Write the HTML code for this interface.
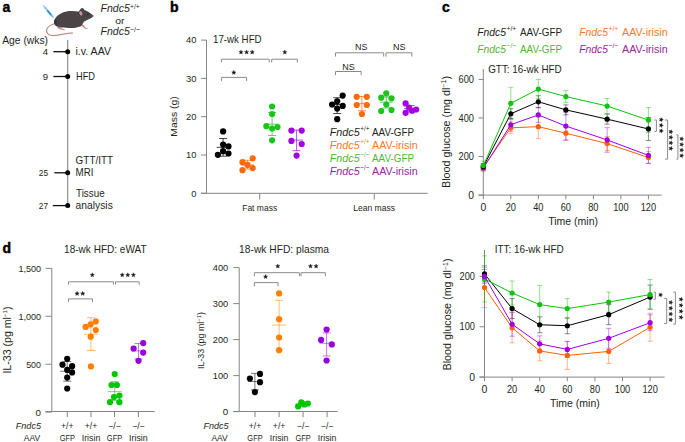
<!DOCTYPE html>
<html><head><meta charset="utf-8"><title>Figure</title>
<style>
html,body{margin:0;padding:0;background:#fff;}
body{width:685px;height:442px;overflow:hidden;}
svg{display:block;font-family:"Liberation Sans", sans-serif;}
</style></head>
<body>
<svg width="685" height="442" viewBox="0 0 685 442">
<rect width="685" height="442" fill="#fff"/>
<text x="2.50" y="12.00" font-size="14" font-weight="bold" fill="#000" stroke="#000" stroke-width="0.45">a</text>
<text x="170.00" y="12.00" font-size="14" font-weight="bold" fill="#000" stroke="#000" stroke-width="0.45">b</text>
<text x="442.00" y="12.00" font-size="14" font-weight="bold" fill="#000" stroke="#000" stroke-width="0.45">c</text>
<text x="2.50" y="252.50" font-size="14" font-weight="bold" fill="#000" stroke="#000" stroke-width="0.45">d</text>

<g>
<path d="M43.6 5.9 L45.4 8.0" stroke="#a9d2ef" stroke-width="1.6" stroke-linecap="round"/>
<path d="M45.0 7.6 L52.6 16.6" stroke="#9ccbec" stroke-width="2.3" stroke-linecap="round"/>
<path d="M47.6 10.8 L50.9 14.7" stroke="#2d8ed5" stroke-width="1.5" stroke-linecap="round"/>
<path d="M52.6 16.6 L54.0 18.2" stroke="#7aa9c9" stroke-width="0.6"/>
<path d="M53.6 24.0 C50.5 25.0 47.2 26.8 46.6 29.8 C46.2 32.6 48.0 35.2 52.0 35.5 C56.0 35.7 60.0 34.6 63.0 34.2 C66.5 33.6 69.5 32.9 72.4 33.2" fill="none" stroke="#c58d88" stroke-width="1.25" stroke-linecap="round"/>
<path d="M57.0 27.0 C57.4 28.8 60.0 30.0 64.8 30.2 L64.6 29.0 C62.2 28.7 60.6 28.0 60.2 27.0 Z" fill="#c9928d"/>
<path d="M81.4 25.2 C82.4 27.4 84.4 28.6 87.4 29.3 L87.6 28.3 C85.8 27.9 84.5 26.9 83.8 25.0 Z" fill="#c9928d"/>
<path d="M54.0 23.0 C53.6 20.5 55.5 17.2 58.4 15.1 C61.5 12.8 65.5 11.3 69.0 11.0 C72.5 10.7 76.0 11.0 78.8 11.6 C80.0 9.5 81.0 8.0 82.2 7.9 C83.4 8.0 84.0 9.0 84.3 10.0 C87.5 11.0 91.0 13.3 93.3 15.6 C93.4 16.8 92.2 17.8 90.8 18.2 C89.0 19.2 86.5 20.2 84.5 21.2 C83.2 22.5 82.6 24.0 82.0 25.5 C80.0 26.8 77.0 27.6 74.5 27.9 C70.0 28.1 65.0 27.8 61.0 27.5 C58.0 27.2 55.5 26.0 54.5 24.5 Z" fill="#4b4446"/>
<path d="M54.2 22.8 C54.0 20.8 54.8 19.2 56.0 18.4 C56.3 20.5 56.8 23.5 58.0 26.6 C56.0 26.0 54.6 24.8 54.2 22.8 Z" fill="#3a3436"/>
<ellipse cx="80.9" cy="13.3" rx="1.5" ry="2.3" transform="rotate(-18 80.9 13.3)" fill="#c8918e"/>
<circle cx="87.9" cy="14.4" r="0.55" fill="#111"/>
<circle cx="93.2" cy="16.2" r="0.6" fill="#c8918e"/>
</g>
<text x="100.60" y="11.50" font-size="10.1" font-style="italic" fill="#231f20" textLength="29.2" lengthAdjust="spacingAndGlyphs">Fndc5</text>
<text x="130.00" y="8.70" font-size="7.6" fill="#231f20" textLength="9.6" lengthAdjust="spacingAndGlyphs">+/+</text>
<text x="119.80" y="23.70" font-size="9.0" text-anchor="middle" fill="#231f20" textLength="9.3" lengthAdjust="spacingAndGlyphs">or</text>
<text x="100.60" y="35.40" font-size="10.1" font-style="italic" fill="#231f20" textLength="29.2" lengthAdjust="spacingAndGlyphs">Fndc5</text>
<text x="130.00" y="32.40" font-size="7.6" fill="#231f20" textLength="10.0" lengthAdjust="spacingAndGlyphs">−/−</text>
<text x="2.20" y="43.70" font-size="10.8" fill="#231f20" textLength="45.8" lengthAdjust="spacingAndGlyphs">Age (wks)</text>
<line x1="67.70" y1="40.00" x2="67.70" y2="205.60" stroke="#8c8c8c" stroke-width="1.2"/>
<line x1="53.40" y1="51.70" x2="67.70" y2="51.70" stroke="#111" stroke-width="1.3"/>
<circle cx="67.70" cy="51.70" r="2.5" fill="#000"/>
<text x="48.00" y="54.70" font-size="9.6" text-anchor="end" fill="#231f20">4</text>
<line x1="53.40" y1="76.50" x2="67.70" y2="76.50" stroke="#111" stroke-width="1.3"/>
<circle cx="67.70" cy="76.50" r="2.5" fill="#000"/>
<text x="48.00" y="79.50" font-size="9.6" text-anchor="end" fill="#231f20">9</text>
<line x1="54.30" y1="172.80" x2="67.70" y2="172.80" stroke="#111" stroke-width="1.3"/>
<circle cx="67.70" cy="172.80" r="2.5" fill="#000"/>
<text x="48.00" y="175.80" font-size="9.6" text-anchor="end" fill="#231f20" textLength="9.2" lengthAdjust="spacingAndGlyphs">25</text>
<line x1="52.80" y1="205.60" x2="67.70" y2="205.60" stroke="#111" stroke-width="1.3"/>
<circle cx="67.70" cy="205.60" r="2.5" fill="#000"/>
<text x="48.00" y="208.60" font-size="9.6" text-anchor="end" fill="#231f20" textLength="9.2" lengthAdjust="spacingAndGlyphs">27</text>
<text x="75.50" y="54.90" font-size="10.6" fill="#231f20" textLength="35.5" lengthAdjust="spacingAndGlyphs">i.v. AAV</text>
<text x="76.00" y="79.90" font-size="10.6" fill="#231f20" textLength="19.0" lengthAdjust="spacingAndGlyphs">HFD</text>
<text x="75.60" y="164.30" font-size="10.6" fill="#231f20" textLength="37.5" lengthAdjust="spacingAndGlyphs">GTT/ITT</text>
<text x="75.60" y="176.20" font-size="10.6" fill="#231f20" textLength="17.8" lengthAdjust="spacingAndGlyphs">MRI</text>
<text x="76.00" y="197.20" font-size="10.6" fill="#231f20" textLength="28.6" lengthAdjust="spacingAndGlyphs">Tissue</text>
<text x="75.60" y="209.00" font-size="10.6" fill="#231f20" textLength="37.2" lengthAdjust="spacingAndGlyphs">analysis</text>
<line x1="206.50" y1="40.00" x2="206.50" y2="193.30" stroke="#858585" stroke-width="1"/>
<line x1="201.00" y1="193.30" x2="427.70" y2="193.30" stroke="#858585" stroke-width="1"/>
<line x1="201.00" y1="193.30" x2="206.50" y2="193.30" stroke="#858585" stroke-width="1"/>
<text x="196.40" y="196.50" font-size="9.4" text-anchor="end" fill="#231f20">0</text>
<line x1="201.00" y1="155.00" x2="206.50" y2="155.00" stroke="#858585" stroke-width="1"/>
<text x="196.40" y="158.20" font-size="9.4" text-anchor="end" fill="#231f20">10</text>
<line x1="201.00" y1="116.70" x2="206.50" y2="116.70" stroke="#858585" stroke-width="1"/>
<text x="196.40" y="119.90" font-size="9.4" text-anchor="end" fill="#231f20">20</text>
<line x1="201.00" y1="78.40" x2="206.50" y2="78.40" stroke="#858585" stroke-width="1"/>
<text x="196.40" y="81.60" font-size="9.4" text-anchor="end" fill="#231f20">30</text>
<line x1="201.00" y1="40.10" x2="206.50" y2="40.10" stroke="#858585" stroke-width="1"/>
<text x="196.40" y="43.30" font-size="9.4" text-anchor="end" fill="#231f20">40</text>
<line x1="259.70" y1="193.30" x2="259.70" y2="199.60" stroke="#858585" stroke-width="1"/>
<line x1="374.20" y1="193.30" x2="374.20" y2="199.60" stroke="#858585" stroke-width="1"/>
<text x="259.70" y="210.70" font-size="8.6" text-anchor="middle" fill="#231f20" textLength="35" lengthAdjust="spacingAndGlyphs">Fat mass</text>
<text x="374.10" y="210.60" font-size="8.6" text-anchor="middle" fill="#231f20" textLength="41.9" lengthAdjust="spacingAndGlyphs">Lean mass</text>
<text x="177.10" y="116.50" font-size="9.6" text-anchor="middle" fill="#231f20" textLength="40.5" lengthAdjust="spacingAndGlyphs" transform="rotate(-90 177.1 116.5)">Mass (g)</text>
<text x="213.00" y="43.40" font-size="10.6" fill="#231f20" textLength="48.6" lengthAdjust="spacingAndGlyphs">17-wk HFD</text>
<line x1="223.10" y1="138.50" x2="223.10" y2="156.20" stroke="#000000" stroke-width="0.9" stroke-opacity="0.8"/>
<line x1="219.10" y1="138.50" x2="227.10" y2="138.50" stroke="#000000" stroke-width="0.9" stroke-opacity="0.8"/>
<line x1="219.10" y1="156.20" x2="227.10" y2="156.20" stroke="#000000" stroke-width="0.9" stroke-opacity="0.8"/>
<line x1="216.60" y1="147.40" x2="229.60" y2="147.40" stroke="#000000" stroke-width="0.9" stroke-opacity="0.8"/>
<circle cx="223.10" cy="131.40" r="3.1" fill="#000000"/>
<circle cx="223.10" cy="144.50" r="3.1" fill="#000000"/>
<circle cx="228.50" cy="146.40" r="3.1" fill="#000000"/>
<circle cx="223.10" cy="151.20" r="3.1" fill="#000000"/>
<circle cx="217.90" cy="154.80" r="3.1" fill="#000000"/>
<circle cx="228.50" cy="153.50" r="3.1" fill="#000000"/>
<line x1="247.50" y1="160.30" x2="247.50" y2="169.00" stroke="#FF680C" stroke-width="0.9" stroke-opacity="0.8"/>
<line x1="243.50" y1="160.30" x2="251.50" y2="160.30" stroke="#FF680C" stroke-width="0.9" stroke-opacity="0.8"/>
<line x1="243.50" y1="169.00" x2="251.50" y2="169.00" stroke="#FF680C" stroke-width="0.9" stroke-opacity="0.8"/>
<line x1="241.00" y1="165.00" x2="254.00" y2="165.00" stroke="#FF680C" stroke-width="0.9" stroke-opacity="0.8"/>
<circle cx="252.70" cy="158.30" r="3.1" fill="#FF680C"/>
<circle cx="242.50" cy="162.20" r="3.1" fill="#FF680C"/>
<circle cx="247.50" cy="164.90" r="3.1" fill="#FF680C"/>
<circle cx="252.70" cy="168.10" r="3.1" fill="#FF680C"/>
<circle cx="242.50" cy="170.20" r="3.1" fill="#FF680C"/>
<line x1="272.10" y1="112.50" x2="272.10" y2="135.50" stroke="#1EC41E" stroke-width="0.9" stroke-opacity="0.8"/>
<line x1="268.10" y1="112.50" x2="276.10" y2="112.50" stroke="#1EC41E" stroke-width="0.9" stroke-opacity="0.8"/>
<line x1="268.10" y1="135.50" x2="276.10" y2="135.50" stroke="#1EC41E" stroke-width="0.9" stroke-opacity="0.8"/>
<line x1="265.60" y1="124.20" x2="278.60" y2="124.20" stroke="#1EC41E" stroke-width="0.9" stroke-opacity="0.8"/>
<circle cx="272.10" cy="106.50" r="3.1" fill="#1EC41E"/>
<circle cx="272.10" cy="114.00" r="3.1" fill="#1EC41E"/>
<circle cx="266.40" cy="126.20" r="3.1" fill="#1EC41E"/>
<circle cx="272.10" cy="128.50" r="3.1" fill="#1EC41E"/>
<circle cx="277.50" cy="127.10" r="3.1" fill="#1EC41E"/>
<circle cx="272.10" cy="140.30" r="3.1" fill="#1EC41E"/>
<line x1="296.60" y1="130.10" x2="296.60" y2="150.70" stroke="#A204E0" stroke-width="0.9" stroke-opacity="0.8"/>
<line x1="292.60" y1="130.10" x2="300.60" y2="130.10" stroke="#A204E0" stroke-width="0.9" stroke-opacity="0.8"/>
<line x1="292.60" y1="150.70" x2="300.60" y2="150.70" stroke="#A204E0" stroke-width="0.9" stroke-opacity="0.8"/>
<line x1="290.10" y1="140.10" x2="303.10" y2="140.10" stroke="#A204E0" stroke-width="0.9" stroke-opacity="0.8"/>
<circle cx="291.40" cy="130.60" r="3.1" fill="#A204E0"/>
<circle cx="301.70" cy="130.60" r="3.1" fill="#A204E0"/>
<circle cx="291.40" cy="140.90" r="3.1" fill="#A204E0"/>
<circle cx="301.70" cy="144.00" r="3.1" fill="#A204E0"/>
<circle cx="296.60" cy="155.60" r="3.1" fill="#A204E0"/>
<line x1="337.20" y1="97.70" x2="337.20" y2="113.50" stroke="#000000" stroke-width="0.9" stroke-opacity="0.8"/>
<line x1="333.20" y1="97.70" x2="341.20" y2="97.70" stroke="#000000" stroke-width="0.9" stroke-opacity="0.8"/>
<line x1="333.20" y1="113.50" x2="341.20" y2="113.50" stroke="#000000" stroke-width="0.9" stroke-opacity="0.8"/>
<line x1="330.70" y1="104.50" x2="343.70" y2="104.50" stroke="#000000" stroke-width="0.9" stroke-opacity="0.8"/>
<circle cx="342.70" cy="95.60" r="3.1" fill="#000000"/>
<circle cx="337.20" cy="101.30" r="3.1" fill="#000000"/>
<circle cx="332.10" cy="104.50" r="3.1" fill="#000000"/>
<circle cx="342.70" cy="105.90" r="3.1" fill="#000000"/>
<circle cx="337.20" cy="108.60" r="3.1" fill="#000000"/>
<circle cx="337.20" cy="119.20" r="3.1" fill="#000000"/>
<line x1="361.90" y1="96.50" x2="361.90" y2="110.70" stroke="#FF680C" stroke-width="0.9" stroke-opacity="0.8"/>
<line x1="357.90" y1="96.50" x2="365.90" y2="96.50" stroke="#FF680C" stroke-width="0.9" stroke-opacity="0.8"/>
<line x1="357.90" y1="110.70" x2="365.90" y2="110.70" stroke="#FF680C" stroke-width="0.9" stroke-opacity="0.8"/>
<line x1="355.40" y1="103.40" x2="368.40" y2="103.40" stroke="#FF680C" stroke-width="0.9" stroke-opacity="0.8"/>
<circle cx="356.70" cy="96.80" r="3.1" fill="#FF680C"/>
<circle cx="366.80" cy="96.80" r="3.1" fill="#FF680C"/>
<circle cx="356.70" cy="105.00" r="3.1" fill="#FF680C"/>
<circle cx="366.80" cy="105.00" r="3.1" fill="#FF680C"/>
<circle cx="361.90" cy="114.00" r="3.1" fill="#FF680C"/>
<line x1="386.30" y1="97.00" x2="386.30" y2="108.00" stroke="#1EC41E" stroke-width="0.9" stroke-opacity="0.8"/>
<line x1="382.30" y1="97.00" x2="390.30" y2="97.00" stroke="#1EC41E" stroke-width="0.9" stroke-opacity="0.8"/>
<line x1="382.30" y1="108.00" x2="390.30" y2="108.00" stroke="#1EC41E" stroke-width="0.9" stroke-opacity="0.8"/>
<line x1="379.80" y1="102.20" x2="392.80" y2="102.20" stroke="#1EC41E" stroke-width="0.9" stroke-opacity="0.8"/>
<circle cx="386.30" cy="93.40" r="3.1" fill="#1EC41E"/>
<circle cx="381.20" cy="97.70" r="3.1" fill="#1EC41E"/>
<circle cx="391.50" cy="98.30" r="3.1" fill="#1EC41E"/>
<circle cx="386.30" cy="104.50" r="3.1" fill="#1EC41E"/>
<circle cx="381.20" cy="111.00" r="3.1" fill="#1EC41E"/>
<circle cx="391.50" cy="110.10" r="3.1" fill="#1EC41E"/>
<line x1="410.60" y1="105.50" x2="410.60" y2="111.80" stroke="#A204E0" stroke-width="0.9" stroke-opacity="0.8"/>
<line x1="406.60" y1="105.50" x2="414.60" y2="105.50" stroke="#A204E0" stroke-width="0.9" stroke-opacity="0.8"/>
<line x1="406.60" y1="111.80" x2="414.60" y2="111.80" stroke="#A204E0" stroke-width="0.9" stroke-opacity="0.8"/>
<line x1="404.10" y1="108.60" x2="417.10" y2="108.60" stroke="#A204E0" stroke-width="0.9" stroke-opacity="0.8"/>
<circle cx="405.60" cy="103.40" r="3.1" fill="#A204E0"/>
<circle cx="409.00" cy="107.70" r="3.1" fill="#A204E0"/>
<circle cx="412.10" cy="110.70" r="3.1" fill="#A204E0"/>
<circle cx="416.20" cy="109.50" r="3.1" fill="#A204E0"/>
<circle cx="405.60" cy="112.80" r="3.1" fill="#A204E0"/>
<path d="M221.40 62.40V59.20H269.20V62.40" fill="none" stroke="#8a8a8a" stroke-width="1"/>
<polygon points="241.00,49.95 241.60,51.38 243.14,51.50 241.96,52.51 242.32,54.02 241.00,53.21 239.68,54.02 240.04,52.51 238.86,51.50 240.40,51.38" fill="#1a1a1a" stroke="#1a1a1a" stroke-width="0.35" stroke-linejoin="round"/>
<polygon points="246.60,49.95 247.20,51.38 248.74,51.50 247.56,52.51 247.92,54.02 246.60,53.21 245.28,54.02 245.64,52.51 244.46,51.50 246.00,51.38" fill="#1a1a1a" stroke="#1a1a1a" stroke-width="0.35" stroke-linejoin="round"/>
<polygon points="252.20,49.95 252.80,51.38 254.34,51.50 253.16,52.51 253.52,54.02 252.20,53.21 250.88,54.02 251.24,52.51 250.06,51.50 251.60,51.38" fill="#1a1a1a" stroke="#1a1a1a" stroke-width="0.35" stroke-linejoin="round"/>
<path d="M271.70 62.40V59.20H297.30V62.40" fill="none" stroke="#8a8a8a" stroke-width="1"/>
<polygon points="284.80,49.95 285.40,51.38 286.94,51.50 285.76,52.51 286.12,54.02 284.80,53.21 283.48,54.02 283.84,52.51 282.66,51.50 284.20,51.38" fill="#1a1a1a" stroke="#1a1a1a" stroke-width="0.35" stroke-linejoin="round"/>
<path d="M221.40 81.00V77.40H246.60V81.00" fill="none" stroke="#8a8a8a" stroke-width="1"/>
<polygon points="233.80,70.35 234.40,71.78 235.94,71.90 234.76,72.91 235.12,74.42 233.80,73.61 232.48,74.42 232.84,72.91 231.66,71.90 233.20,71.78" fill="#1a1a1a" stroke="#1a1a1a" stroke-width="0.35" stroke-linejoin="round"/>
<path d="M335.50 56.60V52.80H383.70V56.60" fill="none" stroke="#8a8a8a" stroke-width="1"/>
<text x="361.20" y="50.30" font-size="9.0" text-anchor="middle" fill="#231f20">NS</text>
<path d="M386.00 56.60V52.80H411.90V56.60" fill="none" stroke="#8a8a8a" stroke-width="1"/>
<text x="399.20" y="50.30" font-size="9.0" text-anchor="middle" fill="#231f20">NS</text>
<path d="M335.50 75.10V71.50H361.20V75.10" fill="none" stroke="#8a8a8a" stroke-width="1"/>
<text x="348.40" y="69.90" font-size="9.0" text-anchor="middle" fill="#231f20">NS</text>
<text x="329.70" y="135.80" font-size="10.2" font-style="italic" fill="#231f20" textLength="30.0" lengthAdjust="spacingAndGlyphs">Fndc5</text>
<text x="360.20" y="131.20" font-size="7.6" fill="#231f20" textLength="9.2" lengthAdjust="spacingAndGlyphs">+/+</text>
<text x="372.00" y="135.80" font-size="10.0" fill="#231f20" textLength="42.0" lengthAdjust="spacingAndGlyphs">AAV-GFP</text>
<text x="329.70" y="148.70" font-size="10.2" font-style="italic" fill="#F27A2E" textLength="30.0" lengthAdjust="spacingAndGlyphs">Fndc5</text>
<text x="360.20" y="144.10" font-size="7.6" fill="#F27A2E" textLength="9.2" lengthAdjust="spacingAndGlyphs">+/+</text>
<text x="372.00" y="148.70" font-size="10.0" fill="#F27A2E" textLength="45.7" lengthAdjust="spacingAndGlyphs">AAV-irisin</text>
<text x="329.70" y="161.60" font-size="10.2" font-style="italic" fill="#55B43C" textLength="30.0" lengthAdjust="spacingAndGlyphs">Fndc5</text>
<text x="360.20" y="157.00" font-size="7.6" fill="#55B43C" textLength="9.2" lengthAdjust="spacingAndGlyphs">−/−</text>
<text x="372.00" y="161.60" font-size="10.0" fill="#55B43C" textLength="42.0" lengthAdjust="spacingAndGlyphs">AAV-GFP</text>
<text x="329.70" y="174.60" font-size="10.2" font-style="italic" fill="#952A98" textLength="30.0" lengthAdjust="spacingAndGlyphs">Fndc5</text>
<text x="360.20" y="170.00" font-size="7.6" fill="#952A98" textLength="9.2" lengthAdjust="spacingAndGlyphs">−/−</text>
<text x="372.00" y="174.60" font-size="10.0" fill="#952A98" textLength="45.7" lengthAdjust="spacingAndGlyphs">AAV-irisin</text>
<line x1="483.30" y1="69.00" x2="483.30" y2="195.10" stroke="#858585" stroke-width="1"/>
<line x1="478.50" y1="195.10" x2="661.70" y2="195.10" stroke="#858585" stroke-width="1"/>
<line x1="478.50" y1="195.10" x2="483.30" y2="195.10" stroke="#858585" stroke-width="1"/>
<text x="474.00" y="198.80" font-size="10.4" text-anchor="end" fill="#231f20">0</text>
<line x1="478.50" y1="156.54" x2="483.30" y2="156.54" stroke="#858585" stroke-width="1"/>
<text x="474.00" y="160.24" font-size="10.4" text-anchor="end" fill="#231f20" textLength="15.4" lengthAdjust="spacingAndGlyphs">200</text>
<line x1="478.50" y1="117.98" x2="483.30" y2="117.98" stroke="#858585" stroke-width="1"/>
<text x="474.00" y="121.68" font-size="10.4" text-anchor="end" fill="#231f20" textLength="15.4" lengthAdjust="spacingAndGlyphs">400</text>
<line x1="478.50" y1="79.42" x2="483.30" y2="79.42" stroke="#858585" stroke-width="1"/>
<text x="474.00" y="83.12" font-size="10.4" text-anchor="end" fill="#231f20" textLength="15.4" lengthAdjust="spacingAndGlyphs">600</text>
<line x1="483.30" y1="195.10" x2="483.30" y2="199.30" stroke="#858585" stroke-width="1"/>
<text x="483.30" y="210.80" font-size="10.4" text-anchor="middle" fill="#231f20">0</text>
<line x1="510.82" y1="195.10" x2="510.82" y2="199.30" stroke="#858585" stroke-width="1"/>
<text x="510.82" y="210.80" font-size="10.4" text-anchor="middle" fill="#231f20" textLength="10.3" lengthAdjust="spacingAndGlyphs">20</text>
<line x1="538.34" y1="195.10" x2="538.34" y2="199.30" stroke="#858585" stroke-width="1"/>
<text x="538.34" y="210.80" font-size="10.4" text-anchor="middle" fill="#231f20" textLength="10.3" lengthAdjust="spacingAndGlyphs">40</text>
<line x1="565.86" y1="195.10" x2="565.86" y2="199.30" stroke="#858585" stroke-width="1"/>
<text x="565.86" y="210.80" font-size="10.4" text-anchor="middle" fill="#231f20" textLength="10.3" lengthAdjust="spacingAndGlyphs">60</text>
<line x1="593.38" y1="195.10" x2="593.38" y2="199.30" stroke="#858585" stroke-width="1"/>
<text x="593.38" y="210.80" font-size="10.4" text-anchor="middle" fill="#231f20" textLength="10.3" lengthAdjust="spacingAndGlyphs">80</text>
<line x1="620.90" y1="195.10" x2="620.90" y2="199.30" stroke="#858585" stroke-width="1"/>
<text x="620.90" y="210.80" font-size="10.4" text-anchor="middle" fill="#231f20" textLength="15.4" lengthAdjust="spacingAndGlyphs">100</text>
<line x1="648.42" y1="195.10" x2="648.42" y2="199.30" stroke="#858585" stroke-width="1"/>
<text x="648.42" y="210.80" font-size="10.4" text-anchor="middle" fill="#231f20" textLength="15.4" lengthAdjust="spacingAndGlyphs">120</text>
<text x="573.10" y="225.00" font-size="10.6" text-anchor="middle" fill="#231f20" textLength="49.8" lengthAdjust="spacingAndGlyphs">Time (min)</text>
<text x="488.20" y="72.70" font-size="10.6" fill="#231f20" textLength="73.5" lengthAdjust="spacingAndGlyphs">GTT: 16-wk HFD</text>
<text transform="translate(450.0 132) rotate(-90)" font-size="10" text-anchor="middle" fill="#231f20" textLength="112" lengthAdjust="spacingAndGlyphs">Blood glucose (mg dl<tspan font-size="6.5" dy="-3.6">−1</tspan><tspan dy="3.6">)</tspan></text>
<line x1="483.30" y1="164.14" x2="483.30" y2="170.14" stroke="#FF6000" stroke-width="0.9" stroke-opacity="0.5"/>
<line x1="480.70" y1="164.14" x2="485.90" y2="164.14" stroke="#FF6000" stroke-width="0.9" stroke-opacity="0.5"/>
<line x1="480.70" y1="170.14" x2="485.90" y2="170.14" stroke="#FF6000" stroke-width="0.9" stroke-opacity="0.5"/>
<line x1="510.82" y1="121.81" x2="510.82" y2="133.81" stroke="#FF6000" stroke-width="0.9" stroke-opacity="0.5"/>
<line x1="508.22" y1="121.81" x2="513.42" y2="121.81" stroke="#FF6000" stroke-width="0.9" stroke-opacity="0.5"/>
<line x1="508.22" y1="133.81" x2="513.42" y2="133.81" stroke="#FF6000" stroke-width="0.9" stroke-opacity="0.5"/>
<line x1="538.34" y1="114.66" x2="538.34" y2="138.66" stroke="#FF6000" stroke-width="0.9" stroke-opacity="0.5"/>
<line x1="535.74" y1="114.66" x2="540.94" y2="114.66" stroke="#FF6000" stroke-width="0.9" stroke-opacity="0.5"/>
<line x1="535.74" y1="138.66" x2="540.94" y2="138.66" stroke="#FF6000" stroke-width="0.9" stroke-opacity="0.5"/>
<line x1="565.86" y1="126.21" x2="565.86" y2="140.21" stroke="#FF6000" stroke-width="0.9" stroke-opacity="0.5"/>
<line x1="563.26" y1="126.21" x2="568.46" y2="126.21" stroke="#FF6000" stroke-width="0.9" stroke-opacity="0.5"/>
<line x1="563.26" y1="140.21" x2="568.46" y2="140.21" stroke="#FF6000" stroke-width="0.9" stroke-opacity="0.5"/>
<line x1="607.14" y1="136.62" x2="607.14" y2="150.62" stroke="#FF6000" stroke-width="0.9" stroke-opacity="0.5"/>
<line x1="604.54" y1="136.62" x2="609.74" y2="136.62" stroke="#FF6000" stroke-width="0.9" stroke-opacity="0.5"/>
<line x1="604.54" y1="150.62" x2="609.74" y2="150.62" stroke="#FF6000" stroke-width="0.9" stroke-opacity="0.5"/>
<line x1="648.42" y1="151.50" x2="648.42" y2="163.50" stroke="#FF6000" stroke-width="0.9" stroke-opacity="0.5"/>
<line x1="645.82" y1="151.50" x2="651.02" y2="151.50" stroke="#FF6000" stroke-width="0.9" stroke-opacity="0.5"/>
<line x1="645.82" y1="163.50" x2="651.02" y2="163.50" stroke="#FF6000" stroke-width="0.9" stroke-opacity="0.5"/>
<line x1="483.30" y1="165.11" x2="483.30" y2="171.11" stroke="#A000E4" stroke-width="0.9" stroke-opacity="0.5"/>
<line x1="480.70" y1="165.11" x2="485.90" y2="165.11" stroke="#A000E4" stroke-width="0.9" stroke-opacity="0.5"/>
<line x1="480.70" y1="171.11" x2="485.90" y2="171.11" stroke="#A000E4" stroke-width="0.9" stroke-opacity="0.5"/>
<line x1="510.82" y1="118.23" x2="510.82" y2="131.23" stroke="#A000E4" stroke-width="0.9" stroke-opacity="0.5"/>
<line x1="508.22" y1="118.23" x2="513.42" y2="118.23" stroke="#A000E4" stroke-width="0.9" stroke-opacity="0.5"/>
<line x1="508.22" y1="131.23" x2="513.42" y2="131.23" stroke="#A000E4" stroke-width="0.9" stroke-opacity="0.5"/>
<line x1="538.34" y1="107.40" x2="538.34" y2="122.40" stroke="#A000E4" stroke-width="0.9" stroke-opacity="0.5"/>
<line x1="535.74" y1="107.40" x2="540.94" y2="107.40" stroke="#A000E4" stroke-width="0.9" stroke-opacity="0.5"/>
<line x1="535.74" y1="122.40" x2="540.94" y2="122.40" stroke="#A000E4" stroke-width="0.9" stroke-opacity="0.5"/>
<line x1="565.86" y1="112.08" x2="565.86" y2="140.08" stroke="#A000E4" stroke-width="0.9" stroke-opacity="0.5"/>
<line x1="563.26" y1="112.08" x2="568.46" y2="112.08" stroke="#A000E4" stroke-width="0.9" stroke-opacity="0.5"/>
<line x1="563.26" y1="140.08" x2="568.46" y2="140.08" stroke="#A000E4" stroke-width="0.9" stroke-opacity="0.5"/>
<line x1="607.14" y1="127.66" x2="607.14" y2="152.26" stroke="#A000E4" stroke-width="0.9" stroke-opacity="0.5"/>
<line x1="604.54" y1="127.66" x2="609.74" y2="127.66" stroke="#A000E4" stroke-width="0.9" stroke-opacity="0.5"/>
<line x1="604.54" y1="152.26" x2="609.74" y2="152.26" stroke="#A000E4" stroke-width="0.9" stroke-opacity="0.5"/>
<line x1="648.42" y1="147.38" x2="648.42" y2="163.38" stroke="#A000E4" stroke-width="0.9" stroke-opacity="0.5"/>
<line x1="645.82" y1="147.38" x2="651.02" y2="147.38" stroke="#A000E4" stroke-width="0.9" stroke-opacity="0.5"/>
<line x1="645.82" y1="163.38" x2="651.02" y2="163.38" stroke="#A000E4" stroke-width="0.9" stroke-opacity="0.5"/>
<line x1="483.30" y1="163.57" x2="483.30" y2="169.57" stroke="#000000" stroke-width="0.9" stroke-opacity="0.5"/>
<line x1="480.70" y1="163.57" x2="485.90" y2="163.57" stroke="#000000" stroke-width="0.9" stroke-opacity="0.5"/>
<line x1="480.70" y1="169.57" x2="485.90" y2="169.57" stroke="#000000" stroke-width="0.9" stroke-opacity="0.5"/>
<line x1="510.82" y1="108.74" x2="510.82" y2="118.74" stroke="#000000" stroke-width="0.9" stroke-opacity="0.5"/>
<line x1="508.22" y1="108.74" x2="513.42" y2="108.74" stroke="#000000" stroke-width="0.9" stroke-opacity="0.5"/>
<line x1="508.22" y1="118.74" x2="513.42" y2="118.74" stroke="#000000" stroke-width="0.9" stroke-opacity="0.5"/>
<line x1="538.34" y1="95.78" x2="538.34" y2="107.78" stroke="#000000" stroke-width="0.9" stroke-opacity="0.5"/>
<line x1="535.74" y1="95.78" x2="540.94" y2="95.78" stroke="#000000" stroke-width="0.9" stroke-opacity="0.5"/>
<line x1="535.74" y1="107.78" x2="540.94" y2="107.78" stroke="#000000" stroke-width="0.9" stroke-opacity="0.5"/>
<line x1="565.86" y1="104.88" x2="565.86" y2="114.88" stroke="#000000" stroke-width="0.9" stroke-opacity="0.5"/>
<line x1="563.26" y1="104.88" x2="568.46" y2="104.88" stroke="#000000" stroke-width="0.9" stroke-opacity="0.5"/>
<line x1="563.26" y1="114.88" x2="568.46" y2="114.88" stroke="#000000" stroke-width="0.9" stroke-opacity="0.5"/>
<line x1="607.14" y1="114.14" x2="607.14" y2="124.14" stroke="#000000" stroke-width="0.9" stroke-opacity="0.5"/>
<line x1="604.54" y1="114.14" x2="609.74" y2="114.14" stroke="#000000" stroke-width="0.9" stroke-opacity="0.5"/>
<line x1="604.54" y1="124.14" x2="609.74" y2="124.14" stroke="#000000" stroke-width="0.9" stroke-opacity="0.5"/>
<line x1="648.42" y1="117.47" x2="648.42" y2="140.47" stroke="#000000" stroke-width="0.9" stroke-opacity="0.5"/>
<line x1="645.82" y1="117.47" x2="651.02" y2="117.47" stroke="#000000" stroke-width="0.9" stroke-opacity="0.5"/>
<line x1="645.82" y1="140.47" x2="651.02" y2="140.47" stroke="#000000" stroke-width="0.9" stroke-opacity="0.5"/>
<line x1="483.30" y1="161.10" x2="483.30" y2="170.10" stroke="#0AC40A" stroke-width="0.9" stroke-opacity="0.5"/>
<line x1="480.70" y1="161.10" x2="485.90" y2="161.10" stroke="#0AC40A" stroke-width="0.9" stroke-opacity="0.5"/>
<line x1="480.70" y1="170.10" x2="485.90" y2="170.10" stroke="#0AC40A" stroke-width="0.9" stroke-opacity="0.5"/>
<line x1="510.82" y1="87.33" x2="510.82" y2="119.33" stroke="#0AC40A" stroke-width="0.9" stroke-opacity="0.5"/>
<line x1="508.22" y1="87.33" x2="513.42" y2="87.33" stroke="#0AC40A" stroke-width="0.9" stroke-opacity="0.5"/>
<line x1="508.22" y1="119.33" x2="513.42" y2="119.33" stroke="#0AC40A" stroke-width="0.9" stroke-opacity="0.5"/>
<line x1="538.34" y1="79.56" x2="538.34" y2="98.56" stroke="#0AC40A" stroke-width="0.9" stroke-opacity="0.5"/>
<line x1="535.74" y1="79.56" x2="540.94" y2="79.56" stroke="#0AC40A" stroke-width="0.9" stroke-opacity="0.5"/>
<line x1="535.74" y1="98.56" x2="540.94" y2="98.56" stroke="#0AC40A" stroke-width="0.9" stroke-opacity="0.5"/>
<line x1="565.86" y1="90.58" x2="565.86" y2="102.58" stroke="#0AC40A" stroke-width="0.9" stroke-opacity="0.5"/>
<line x1="563.26" y1="90.58" x2="568.46" y2="90.58" stroke="#0AC40A" stroke-width="0.9" stroke-opacity="0.5"/>
<line x1="563.26" y1="102.58" x2="568.46" y2="102.58" stroke="#0AC40A" stroke-width="0.9" stroke-opacity="0.5"/>
<line x1="607.14" y1="98.53" x2="607.14" y2="113.53" stroke="#0AC40A" stroke-width="0.9" stroke-opacity="0.5"/>
<line x1="604.54" y1="98.53" x2="609.74" y2="98.53" stroke="#0AC40A" stroke-width="0.9" stroke-opacity="0.5"/>
<line x1="604.54" y1="113.53" x2="609.74" y2="113.53" stroke="#0AC40A" stroke-width="0.9" stroke-opacity="0.5"/>
<line x1="648.42" y1="107.60" x2="648.42" y2="132.60" stroke="#0AC40A" stroke-width="0.9" stroke-opacity="0.5"/>
<line x1="645.82" y1="107.60" x2="651.02" y2="107.60" stroke="#0AC40A" stroke-width="0.9" stroke-opacity="0.5"/>
<line x1="645.82" y1="132.60" x2="651.02" y2="132.60" stroke="#0AC40A" stroke-width="0.9" stroke-opacity="0.5"/>
<polyline points="483.30,167.14 510.82,127.81 538.34,126.66 565.86,133.21 607.14,143.62 648.42,157.50" fill="none" stroke="#FF6000" stroke-width="1.0" stroke-linejoin="round"/>
<circle cx="483.30" cy="167.14" r="2.6" fill="#FF6000"/>
<circle cx="510.82" cy="127.81" r="2.6" fill="#FF6000"/>
<circle cx="538.34" cy="126.66" r="2.6" fill="#FF6000"/>
<circle cx="565.86" cy="133.21" r="2.6" fill="#FF6000"/>
<circle cx="607.14" cy="143.62" r="2.6" fill="#FF6000"/>
<circle cx="648.42" cy="157.50" r="2.6" fill="#FF6000"/>
<polyline points="483.30,168.11 510.82,124.73 538.34,114.90 565.86,126.08 607.14,139.96 648.42,155.38" fill="none" stroke="#A000E4" stroke-width="1.0" stroke-linejoin="round"/>
<circle cx="483.30" cy="168.11" r="2.6" fill="#A000E4"/>
<circle cx="510.82" cy="124.73" r="2.6" fill="#A000E4"/>
<circle cx="538.34" cy="114.90" r="2.6" fill="#A000E4"/>
<circle cx="565.86" cy="126.08" r="2.6" fill="#A000E4"/>
<circle cx="607.14" cy="139.96" r="2.6" fill="#A000E4"/>
<circle cx="648.42" cy="155.38" r="2.6" fill="#A000E4"/>
<polyline points="483.30,166.57 510.82,113.74 538.34,101.78 565.86,109.88 607.14,119.14 648.42,128.97" fill="none" stroke="#000000" stroke-width="1.0" stroke-linejoin="round"/>
<circle cx="483.30" cy="166.57" r="2.6" fill="#000000"/>
<circle cx="510.82" cy="113.74" r="2.6" fill="#000000"/>
<circle cx="538.34" cy="101.78" r="2.6" fill="#000000"/>
<circle cx="565.86" cy="109.88" r="2.6" fill="#000000"/>
<circle cx="607.14" cy="119.14" r="2.6" fill="#000000"/>
<circle cx="648.42" cy="128.97" r="2.6" fill="#000000"/>
<polyline points="483.30,165.60 510.82,103.33 538.34,89.06 565.86,96.58 607.14,106.03 648.42,120.10" fill="none" stroke="#0AC40A" stroke-width="1.0" stroke-linejoin="round"/>
<circle cx="483.30" cy="165.60" r="2.6" fill="#0AC40A"/>
<circle cx="510.82" cy="103.33" r="2.6" fill="#0AC40A"/>
<circle cx="538.34" cy="89.06" r="2.6" fill="#0AC40A"/>
<circle cx="565.86" cy="96.58" r="2.6" fill="#0AC40A"/>
<circle cx="607.14" cy="106.03" r="2.6" fill="#0AC40A"/>
<circle cx="648.42" cy="120.10" r="2.6" fill="#0AC40A"/>
<path d="M654.30 120.00H656.40V131.40H654.30" fill="none" stroke="#8a8a8a" stroke-width="1"/>
<polygon points="663.40,119.70 662.00,120.28 661.88,121.79 660.89,120.64 659.42,120.99 660.21,119.70 659.42,118.41 660.89,118.76 661.88,117.61 662.00,119.12" fill="#1a1a1a" stroke="#1a1a1a" stroke-width="0.35" stroke-linejoin="round"/>
<polygon points="663.40,125.30 662.00,125.88 661.88,127.39 660.89,126.24 659.42,126.59 660.21,125.30 659.42,124.01 660.89,124.36 661.88,123.21 662.00,124.72" fill="#1a1a1a" stroke="#1a1a1a" stroke-width="0.35" stroke-linejoin="round"/>
<polygon points="663.40,130.90 662.00,131.48 661.88,132.99 660.89,131.84 659.42,132.19 660.21,130.90 659.42,129.61 660.89,129.96 661.88,128.81 662.00,130.32" fill="#1a1a1a" stroke="#1a1a1a" stroke-width="0.35" stroke-linejoin="round"/>
<path d="M664.90 120.00H667.60V159.10H664.90" fill="none" stroke="#8a8a8a" stroke-width="1"/>
<polygon points="673.00,131.80 671.60,132.38 671.48,133.89 670.49,132.74 669.02,133.09 669.81,131.80 669.02,130.51 670.49,130.86 671.48,129.71 671.60,131.22" fill="#1a1a1a" stroke="#1a1a1a" stroke-width="0.35" stroke-linejoin="round"/>
<polygon points="673.00,137.35 671.60,137.93 671.48,139.44 670.49,138.29 669.02,138.64 669.81,137.35 669.02,136.06 670.49,136.41 671.48,135.26 671.60,136.77" fill="#1a1a1a" stroke="#1a1a1a" stroke-width="0.35" stroke-linejoin="round"/>
<polygon points="673.00,142.90 671.60,143.48 671.48,144.99 670.49,143.84 669.02,144.19 669.81,142.90 669.02,141.61 670.49,141.96 671.48,140.81 671.60,142.32" fill="#1a1a1a" stroke="#1a1a1a" stroke-width="0.35" stroke-linejoin="round"/>
<polygon points="673.00,148.45 671.60,149.03 671.48,150.54 670.49,149.39 669.02,149.74 669.81,148.45 669.02,147.16 670.49,147.51 671.48,146.36 671.60,147.87" fill="#1a1a1a" stroke="#1a1a1a" stroke-width="0.35" stroke-linejoin="round"/>
<path d="M676.30 134.90H677.90V159.10H676.30" fill="none" stroke="#8a8a8a" stroke-width="1"/>
<polygon points="683.80,138.90 682.40,139.48 682.28,140.99 681.29,139.84 679.82,140.19 680.61,138.90 679.82,137.61 681.29,137.96 682.28,136.81 682.40,138.32" fill="#1a1a1a" stroke="#1a1a1a" stroke-width="0.35" stroke-linejoin="round"/>
<polygon points="683.80,144.50 682.40,145.08 682.28,146.59 681.29,145.44 679.82,145.79 680.61,144.50 679.82,143.21 681.29,143.56 682.28,142.41 682.40,143.92" fill="#1a1a1a" stroke="#1a1a1a" stroke-width="0.35" stroke-linejoin="round"/>
<polygon points="683.80,150.10 682.40,150.68 682.28,152.19 681.29,151.04 679.82,151.39 680.61,150.10 679.82,148.81 681.29,149.16 682.28,148.01 682.40,149.52" fill="#1a1a1a" stroke="#1a1a1a" stroke-width="0.35" stroke-linejoin="round"/>
<polygon points="683.80,155.70 682.40,156.28 682.28,157.79 681.29,156.64 679.82,156.99 680.61,155.70 679.82,154.41 681.29,154.76 682.28,153.61 682.40,155.12" fill="#1a1a1a" stroke="#1a1a1a" stroke-width="0.35" stroke-linejoin="round"/>
<text x="477.20" y="35.80" font-size="10.2" font-style="italic" fill="#231f20" textLength="28.8" lengthAdjust="spacingAndGlyphs">Fndc5</text>
<text x="506.50" y="31.20" font-size="7.6" fill="#231f20" textLength="9.8" lengthAdjust="spacingAndGlyphs">+/+</text>
<text x="520.00" y="35.80" font-size="10.0" fill="#231f20" textLength="42.0" lengthAdjust="spacingAndGlyphs">AAV-GFP</text>
<text x="477.20" y="52.90" font-size="10.2" font-style="italic" fill="#55B43C" textLength="28.8" lengthAdjust="spacingAndGlyphs">Fndc5</text>
<text x="506.50" y="48.30" font-size="7.6" fill="#55B43C" textLength="9.8" lengthAdjust="spacingAndGlyphs">−/−</text>
<text x="520.00" y="52.90" font-size="10.0" fill="#55B43C" textLength="42.0" lengthAdjust="spacingAndGlyphs">AAV-GFP</text>
<text x="579.20" y="35.80" font-size="10.2" font-style="italic" fill="#F27A2E" textLength="28.8" lengthAdjust="spacingAndGlyphs">Fndc5</text>
<text x="608.50" y="31.20" font-size="7.6" fill="#F27A2E" textLength="9.8" lengthAdjust="spacingAndGlyphs">+/+</text>
<text x="622.00" y="35.80" font-size="10.0" fill="#F27A2E" textLength="45.7" lengthAdjust="spacingAndGlyphs">AAV-irisin</text>
<text x="579.20" y="52.90" font-size="10.2" font-style="italic" fill="#952A98" textLength="28.8" lengthAdjust="spacingAndGlyphs">Fndc5</text>
<text x="608.50" y="48.30" font-size="7.6" fill="#952A98" textLength="9.8" lengthAdjust="spacingAndGlyphs">−/−</text>
<text x="622.00" y="52.90" font-size="10.0" fill="#952A98" textLength="45.7" lengthAdjust="spacingAndGlyphs">AAV-irisin</text>
<line x1="484.50" y1="250.00" x2="484.50" y2="377.10" stroke="#858585" stroke-width="1"/>
<line x1="479.50" y1="377.10" x2="664.70" y2="377.10" stroke="#858585" stroke-width="1"/>
<line x1="479.50" y1="377.10" x2="484.50" y2="377.10" stroke="#858585" stroke-width="1"/>
<text x="475.00" y="380.80" font-size="10.4" text-anchor="end" fill="#231f20">0</text>
<line x1="479.50" y1="326.75" x2="484.50" y2="326.75" stroke="#858585" stroke-width="1"/>
<text x="475.00" y="330.45" font-size="10.4" text-anchor="end" fill="#231f20" textLength="15.4" lengthAdjust="spacingAndGlyphs">100</text>
<line x1="479.50" y1="276.40" x2="484.50" y2="276.40" stroke="#858585" stroke-width="1"/>
<text x="475.00" y="280.10" font-size="10.4" text-anchor="end" fill="#231f20" textLength="15.4" lengthAdjust="spacingAndGlyphs">200</text>
<line x1="484.50" y1="377.10" x2="484.50" y2="381.20" stroke="#858585" stroke-width="1"/>
<text x="484.50" y="392.60" font-size="10.4" text-anchor="middle" fill="#231f20">0</text>
<line x1="512.10" y1="377.10" x2="512.10" y2="381.20" stroke="#858585" stroke-width="1"/>
<text x="512.10" y="392.60" font-size="10.4" text-anchor="middle" fill="#231f20" textLength="10.3" lengthAdjust="spacingAndGlyphs">20</text>
<line x1="539.70" y1="377.10" x2="539.70" y2="381.20" stroke="#858585" stroke-width="1"/>
<text x="539.70" y="392.60" font-size="10.4" text-anchor="middle" fill="#231f20" textLength="10.3" lengthAdjust="spacingAndGlyphs">40</text>
<line x1="567.30" y1="377.10" x2="567.30" y2="381.20" stroke="#858585" stroke-width="1"/>
<text x="567.30" y="392.60" font-size="10.4" text-anchor="middle" fill="#231f20" textLength="10.3" lengthAdjust="spacingAndGlyphs">60</text>
<line x1="594.90" y1="377.10" x2="594.90" y2="381.20" stroke="#858585" stroke-width="1"/>
<text x="594.90" y="392.60" font-size="10.4" text-anchor="middle" fill="#231f20" textLength="10.3" lengthAdjust="spacingAndGlyphs">80</text>
<line x1="622.50" y1="377.10" x2="622.50" y2="381.20" stroke="#858585" stroke-width="1"/>
<text x="622.50" y="392.60" font-size="10.4" text-anchor="middle" fill="#231f20" textLength="15.4" lengthAdjust="spacingAndGlyphs">100</text>
<line x1="650.10" y1="377.10" x2="650.10" y2="381.20" stroke="#858585" stroke-width="1"/>
<text x="650.10" y="392.60" font-size="10.4" text-anchor="middle" fill="#231f20" textLength="15.4" lengthAdjust="spacingAndGlyphs">120</text>
<text x="574.90" y="407.40" font-size="10.6" text-anchor="middle" fill="#231f20" textLength="49.8" lengthAdjust="spacingAndGlyphs">Time (min)</text>
<text x="494.70" y="252.70" font-size="10.6" fill="#231f20" textLength="69.0" lengthAdjust="spacingAndGlyphs">ITT: 16-wk HFD</text>
<text transform="translate(451.4 314.5) rotate(-90)" font-size="10" text-anchor="middle" fill="#231f20" textLength="112" lengthAdjust="spacingAndGlyphs">Blood glucose (mg dl<tspan font-size="6.5" dy="-3.6">−1</tspan><tspan dy="3.6">)</tspan></text>
<line x1="484.50" y1="267.48" x2="484.50" y2="307.48" stroke="#FF6000" stroke-width="0.9" stroke-opacity="0.5"/>
<line x1="481.90" y1="267.48" x2="487.10" y2="267.48" stroke="#FF6000" stroke-width="0.9" stroke-opacity="0.5"/>
<line x1="481.90" y1="307.48" x2="487.10" y2="307.48" stroke="#FF6000" stroke-width="0.9" stroke-opacity="0.5"/>
<line x1="512.10" y1="312.76" x2="512.10" y2="342.76" stroke="#FF6000" stroke-width="0.9" stroke-opacity="0.5"/>
<line x1="509.50" y1="312.76" x2="514.70" y2="312.76" stroke="#FF6000" stroke-width="0.9" stroke-opacity="0.5"/>
<line x1="509.50" y1="342.76" x2="514.70" y2="342.76" stroke="#FF6000" stroke-width="0.9" stroke-opacity="0.5"/>
<line x1="539.70" y1="340.92" x2="539.70" y2="360.92" stroke="#FF6000" stroke-width="0.9" stroke-opacity="0.5"/>
<line x1="537.10" y1="340.92" x2="542.30" y2="340.92" stroke="#FF6000" stroke-width="0.9" stroke-opacity="0.5"/>
<line x1="537.10" y1="360.92" x2="542.30" y2="360.92" stroke="#FF6000" stroke-width="0.9" stroke-opacity="0.5"/>
<line x1="567.30" y1="341.45" x2="567.30" y2="369.45" stroke="#FF6000" stroke-width="0.9" stroke-opacity="0.5"/>
<line x1="564.70" y1="341.45" x2="569.90" y2="341.45" stroke="#FF6000" stroke-width="0.9" stroke-opacity="0.5"/>
<line x1="564.70" y1="369.45" x2="569.90" y2="369.45" stroke="#FF6000" stroke-width="0.9" stroke-opacity="0.5"/>
<line x1="608.70" y1="339.42" x2="608.70" y2="363.42" stroke="#FF6000" stroke-width="0.9" stroke-opacity="0.5"/>
<line x1="606.10" y1="339.42" x2="611.30" y2="339.42" stroke="#FF6000" stroke-width="0.9" stroke-opacity="0.5"/>
<line x1="606.10" y1="363.42" x2="611.30" y2="363.42" stroke="#FF6000" stroke-width="0.9" stroke-opacity="0.5"/>
<line x1="650.10" y1="313.25" x2="650.10" y2="341.25" stroke="#FF6000" stroke-width="0.9" stroke-opacity="0.5"/>
<line x1="647.50" y1="313.25" x2="652.70" y2="313.25" stroke="#FF6000" stroke-width="0.9" stroke-opacity="0.5"/>
<line x1="647.50" y1="341.25" x2="652.70" y2="341.25" stroke="#FF6000" stroke-width="0.9" stroke-opacity="0.5"/>
<line x1="484.50" y1="265.88" x2="484.50" y2="281.88" stroke="#000000" stroke-width="0.9" stroke-opacity="0.5"/>
<line x1="481.90" y1="265.88" x2="487.10" y2="265.88" stroke="#000000" stroke-width="0.9" stroke-opacity="0.5"/>
<line x1="481.90" y1="281.88" x2="487.10" y2="281.88" stroke="#000000" stroke-width="0.9" stroke-opacity="0.5"/>
<line x1="512.10" y1="298.62" x2="512.10" y2="318.62" stroke="#000000" stroke-width="0.9" stroke-opacity="0.5"/>
<line x1="509.50" y1="298.62" x2="514.70" y2="298.62" stroke="#000000" stroke-width="0.9" stroke-opacity="0.5"/>
<line x1="509.50" y1="318.62" x2="514.70" y2="318.62" stroke="#000000" stroke-width="0.9" stroke-opacity="0.5"/>
<line x1="539.70" y1="316.74" x2="539.70" y2="332.74" stroke="#000000" stroke-width="0.9" stroke-opacity="0.5"/>
<line x1="537.10" y1="316.74" x2="542.30" y2="316.74" stroke="#000000" stroke-width="0.9" stroke-opacity="0.5"/>
<line x1="537.10" y1="332.74" x2="542.30" y2="332.74" stroke="#000000" stroke-width="0.9" stroke-opacity="0.5"/>
<line x1="567.30" y1="317.74" x2="567.30" y2="333.74" stroke="#000000" stroke-width="0.9" stroke-opacity="0.5"/>
<line x1="564.70" y1="317.74" x2="569.90" y2="317.74" stroke="#000000" stroke-width="0.9" stroke-opacity="0.5"/>
<line x1="564.70" y1="333.74" x2="569.90" y2="333.74" stroke="#000000" stroke-width="0.9" stroke-opacity="0.5"/>
<line x1="608.70" y1="304.67" x2="608.70" y2="324.67" stroke="#000000" stroke-width="0.9" stroke-opacity="0.5"/>
<line x1="606.10" y1="304.67" x2="611.30" y2="304.67" stroke="#000000" stroke-width="0.9" stroke-opacity="0.5"/>
<line x1="606.10" y1="324.67" x2="611.30" y2="324.67" stroke="#000000" stroke-width="0.9" stroke-opacity="0.5"/>
<line x1="650.10" y1="285.04" x2="650.10" y2="309.04" stroke="#000000" stroke-width="0.9" stroke-opacity="0.5"/>
<line x1="647.50" y1="285.04" x2="652.70" y2="285.04" stroke="#000000" stroke-width="0.9" stroke-opacity="0.5"/>
<line x1="647.50" y1="309.04" x2="652.70" y2="309.04" stroke="#000000" stroke-width="0.9" stroke-opacity="0.5"/>
<line x1="484.50" y1="255.92" x2="484.50" y2="301.92" stroke="#0AC40A" stroke-width="0.9" stroke-opacity="0.5"/>
<line x1="481.90" y1="255.92" x2="487.10" y2="255.92" stroke="#0AC40A" stroke-width="0.9" stroke-opacity="0.5"/>
<line x1="481.90" y1="301.92" x2="487.10" y2="301.92" stroke="#0AC40A" stroke-width="0.9" stroke-opacity="0.5"/>
<line x1="512.10" y1="281.02" x2="512.10" y2="305.02" stroke="#0AC40A" stroke-width="0.9" stroke-opacity="0.5"/>
<line x1="509.50" y1="281.02" x2="514.70" y2="281.02" stroke="#0AC40A" stroke-width="0.9" stroke-opacity="0.5"/>
<line x1="509.50" y1="305.02" x2="514.70" y2="305.02" stroke="#0AC40A" stroke-width="0.9" stroke-opacity="0.5"/>
<line x1="539.70" y1="285.60" x2="539.70" y2="323.60" stroke="#0AC40A" stroke-width="0.9" stroke-opacity="0.5"/>
<line x1="537.10" y1="285.60" x2="542.30" y2="285.60" stroke="#0AC40A" stroke-width="0.9" stroke-opacity="0.5"/>
<line x1="537.10" y1="323.60" x2="542.30" y2="323.60" stroke="#0AC40A" stroke-width="0.9" stroke-opacity="0.5"/>
<line x1="567.30" y1="298.62" x2="567.30" y2="318.62" stroke="#0AC40A" stroke-width="0.9" stroke-opacity="0.5"/>
<line x1="564.70" y1="298.62" x2="569.90" y2="298.62" stroke="#0AC40A" stroke-width="0.9" stroke-opacity="0.5"/>
<line x1="564.70" y1="318.62" x2="569.90" y2="318.62" stroke="#0AC40A" stroke-width="0.9" stroke-opacity="0.5"/>
<line x1="608.70" y1="292.08" x2="608.70" y2="312.08" stroke="#0AC40A" stroke-width="0.9" stroke-opacity="0.5"/>
<line x1="606.10" y1="292.08" x2="611.30" y2="292.08" stroke="#0AC40A" stroke-width="0.9" stroke-opacity="0.5"/>
<line x1="606.10" y1="312.08" x2="611.30" y2="312.08" stroke="#0AC40A" stroke-width="0.9" stroke-opacity="0.5"/>
<line x1="650.10" y1="279.53" x2="650.10" y2="309.53" stroke="#0AC40A" stroke-width="0.9" stroke-opacity="0.5"/>
<line x1="647.50" y1="279.53" x2="652.70" y2="279.53" stroke="#0AC40A" stroke-width="0.9" stroke-opacity="0.5"/>
<line x1="647.50" y1="309.53" x2="652.70" y2="309.53" stroke="#0AC40A" stroke-width="0.9" stroke-opacity="0.5"/>
<line x1="484.50" y1="269.40" x2="484.50" y2="283.40" stroke="#A000E4" stroke-width="0.9" stroke-opacity="0.5"/>
<line x1="481.90" y1="269.40" x2="487.10" y2="269.40" stroke="#A000E4" stroke-width="0.9" stroke-opacity="0.5"/>
<line x1="481.90" y1="283.40" x2="487.10" y2="283.40" stroke="#A000E4" stroke-width="0.9" stroke-opacity="0.5"/>
<line x1="512.10" y1="312.23" x2="512.10" y2="336.23" stroke="#A000E4" stroke-width="0.9" stroke-opacity="0.5"/>
<line x1="509.50" y1="312.23" x2="514.70" y2="312.23" stroke="#A000E4" stroke-width="0.9" stroke-opacity="0.5"/>
<line x1="509.50" y1="336.23" x2="514.70" y2="336.23" stroke="#A000E4" stroke-width="0.9" stroke-opacity="0.5"/>
<line x1="539.70" y1="335.87" x2="539.70" y2="351.87" stroke="#A000E4" stroke-width="0.9" stroke-opacity="0.5"/>
<line x1="537.10" y1="335.87" x2="542.30" y2="335.87" stroke="#A000E4" stroke-width="0.9" stroke-opacity="0.5"/>
<line x1="537.10" y1="351.87" x2="542.30" y2="351.87" stroke="#A000E4" stroke-width="0.9" stroke-opacity="0.5"/>
<line x1="567.30" y1="341.41" x2="567.30" y2="357.41" stroke="#A000E4" stroke-width="0.9" stroke-opacity="0.5"/>
<line x1="564.70" y1="341.41" x2="569.90" y2="341.41" stroke="#A000E4" stroke-width="0.9" stroke-opacity="0.5"/>
<line x1="564.70" y1="357.41" x2="569.90" y2="357.41" stroke="#A000E4" stroke-width="0.9" stroke-opacity="0.5"/>
<line x1="608.70" y1="328.33" x2="608.70" y2="348.33" stroke="#A000E4" stroke-width="0.9" stroke-opacity="0.5"/>
<line x1="606.10" y1="328.33" x2="611.30" y2="328.33" stroke="#A000E4" stroke-width="0.9" stroke-opacity="0.5"/>
<line x1="606.10" y1="348.33" x2="611.30" y2="348.33" stroke="#A000E4" stroke-width="0.9" stroke-opacity="0.5"/>
<line x1="650.10" y1="314.72" x2="650.10" y2="330.72" stroke="#A000E4" stroke-width="0.9" stroke-opacity="0.5"/>
<line x1="647.50" y1="314.72" x2="652.70" y2="314.72" stroke="#A000E4" stroke-width="0.9" stroke-opacity="0.5"/>
<line x1="647.50" y1="330.72" x2="652.70" y2="330.72" stroke="#A000E4" stroke-width="0.9" stroke-opacity="0.5"/>
<polyline points="484.50,287.48 512.10,327.76 539.70,350.92 567.30,355.45 608.70,351.42 650.10,327.25" fill="none" stroke="#FF6000" stroke-width="1.0" stroke-linejoin="round"/>
<circle cx="484.50" cy="287.48" r="2.6" fill="#FF6000"/>
<circle cx="512.10" cy="327.76" r="2.6" fill="#FF6000"/>
<circle cx="539.70" cy="350.92" r="2.6" fill="#FF6000"/>
<circle cx="567.30" cy="355.45" r="2.6" fill="#FF6000"/>
<circle cx="608.70" cy="351.42" r="2.6" fill="#FF6000"/>
<circle cx="650.10" cy="327.25" r="2.6" fill="#FF6000"/>
<polyline points="484.50,273.88 512.10,308.62 539.70,324.74 567.30,325.74 608.70,314.67 650.10,297.04" fill="none" stroke="#000000" stroke-width="1.0" stroke-linejoin="round"/>
<circle cx="484.50" cy="273.88" r="2.6" fill="#000000"/>
<circle cx="512.10" cy="308.62" r="2.6" fill="#000000"/>
<circle cx="539.70" cy="324.74" r="2.6" fill="#000000"/>
<circle cx="567.30" cy="325.74" r="2.6" fill="#000000"/>
<circle cx="608.70" cy="314.67" r="2.6" fill="#000000"/>
<circle cx="650.10" cy="297.04" r="2.6" fill="#000000"/>
<polyline points="484.50,278.92 512.10,293.02 539.70,304.60 567.30,308.62 608.70,302.08 650.10,294.53" fill="none" stroke="#0AC40A" stroke-width="1.0" stroke-linejoin="round"/>
<circle cx="484.50" cy="278.92" r="2.6" fill="#0AC40A"/>
<circle cx="512.10" cy="293.02" r="2.6" fill="#0AC40A"/>
<circle cx="539.70" cy="304.60" r="2.6" fill="#0AC40A"/>
<circle cx="567.30" cy="308.62" r="2.6" fill="#0AC40A"/>
<circle cx="608.70" cy="302.08" r="2.6" fill="#0AC40A"/>
<circle cx="650.10" cy="294.53" r="2.6" fill="#0AC40A"/>
<polyline points="484.50,276.40 512.10,324.23 539.70,343.87 567.30,349.41 608.70,338.33 650.10,322.72" fill="none" stroke="#A000E4" stroke-width="1.0" stroke-linejoin="round"/>
<circle cx="484.50" cy="276.40" r="2.6" fill="#A000E4"/>
<circle cx="512.10" cy="324.23" r="2.6" fill="#A000E4"/>
<circle cx="539.70" cy="343.87" r="2.6" fill="#A000E4"/>
<circle cx="567.30" cy="349.41" r="2.6" fill="#A000E4"/>
<circle cx="608.70" cy="338.33" r="2.6" fill="#A000E4"/>
<circle cx="650.10" cy="322.72" r="2.6" fill="#A000E4"/>
<path d="M653.70 292.10H655.30V299.30H653.70" fill="none" stroke="#8a8a8a" stroke-width="1"/>
<polygon points="662.70,294.90 661.30,295.48 661.18,296.99 660.19,295.84 658.72,296.19 659.51,294.90 658.72,293.61 660.19,293.96 661.18,292.81 661.30,294.32" fill="#1a1a1a" stroke="#1a1a1a" stroke-width="0.35" stroke-linejoin="round"/>
<path d="M664.20 298.40H666.70V323.50H664.20" fill="none" stroke="#8a8a8a" stroke-width="1"/>
<polygon points="672.90,302.40 671.50,302.98 671.38,304.49 670.39,303.34 668.92,303.69 669.71,302.40 668.92,301.11 670.39,301.46 671.38,300.31 671.50,301.82" fill="#1a1a1a" stroke="#1a1a1a" stroke-width="0.35" stroke-linejoin="round"/>
<polygon points="672.90,308.20 671.50,308.78 671.38,310.29 670.39,309.14 668.92,309.49 669.71,308.20 668.92,306.91 670.39,307.26 671.38,306.11 671.50,307.62" fill="#1a1a1a" stroke="#1a1a1a" stroke-width="0.35" stroke-linejoin="round"/>
<polygon points="672.90,314.00 671.50,314.58 671.38,316.09 670.39,314.94 668.92,315.29 669.71,314.00 668.92,312.71 670.39,313.06 671.38,311.91 671.50,313.42" fill="#1a1a1a" stroke="#1a1a1a" stroke-width="0.35" stroke-linejoin="round"/>
<polygon points="672.90,319.80 671.50,320.38 671.38,321.89 670.39,320.74 668.92,321.09 669.71,319.80 668.92,318.51 670.39,318.86 671.38,317.71 671.50,319.22" fill="#1a1a1a" stroke="#1a1a1a" stroke-width="0.35" stroke-linejoin="round"/>
<path d="M673.30 292.10H675.40V324.20H673.30" fill="none" stroke="#8a8a8a" stroke-width="1"/>
<polygon points="683.20,299.30 681.80,299.88 681.68,301.39 680.69,300.24 679.22,300.59 680.01,299.30 679.22,298.01 680.69,298.36 681.68,297.21 681.80,298.72" fill="#1a1a1a" stroke="#1a1a1a" stroke-width="0.35" stroke-linejoin="round"/>
<polygon points="683.20,305.30 681.80,305.88 681.68,307.39 680.69,306.24 679.22,306.59 680.01,305.30 679.22,304.01 680.69,304.36 681.68,303.21 681.80,304.72" fill="#1a1a1a" stroke="#1a1a1a" stroke-width="0.35" stroke-linejoin="round"/>
<polygon points="683.20,311.30 681.80,311.88 681.68,313.39 680.69,312.24 679.22,312.59 680.01,311.30 679.22,310.01 680.69,310.36 681.68,309.21 681.80,310.72" fill="#1a1a1a" stroke="#1a1a1a" stroke-width="0.35" stroke-linejoin="round"/>
<polygon points="683.20,317.30 681.80,317.88 681.68,319.39 680.69,318.24 679.22,318.59 680.01,317.30 679.22,316.01 680.69,316.36 681.68,315.21 681.80,316.72" fill="#1a1a1a" stroke="#1a1a1a" stroke-width="0.35" stroke-linejoin="round"/>
<line x1="51.80" y1="268.40" x2="51.80" y2="411.50" stroke="#858585" stroke-width="1"/>
<line x1="45.50" y1="411.50" x2="154.60" y2="411.50" stroke="#858585" stroke-width="1"/>
<line x1="45.50" y1="412.10" x2="51.80" y2="412.10" stroke="#858585" stroke-width="1"/>
<text x="41.00" y="415.70" font-size="9.8" text-anchor="end" fill="#231f20">0</text>
<line x1="45.50" y1="364.20" x2="51.80" y2="364.20" stroke="#858585" stroke-width="1"/>
<text x="41.00" y="367.80" font-size="9.8" text-anchor="end" fill="#231f20" textLength="14.8" lengthAdjust="spacingAndGlyphs">500</text>
<line x1="45.50" y1="316.30" x2="51.80" y2="316.30" stroke="#858585" stroke-width="1"/>
<text x="41.00" y="319.90" font-size="9.8" text-anchor="end" fill="#231f20" textLength="22.6" lengthAdjust="spacingAndGlyphs">1,000</text>
<line x1="45.50" y1="268.40" x2="51.80" y2="268.40" stroke="#858585" stroke-width="1"/>
<text x="41.00" y="272.00" font-size="9.8" text-anchor="end" fill="#231f20" textLength="22.6" lengthAdjust="spacingAndGlyphs">1,500</text>
<line x1="67.30" y1="411.50" x2="67.30" y2="417.10" stroke="#858585" stroke-width="1"/>
<line x1="91.00" y1="411.50" x2="91.00" y2="417.10" stroke="#858585" stroke-width="1"/>
<line x1="114.50" y1="411.50" x2="114.50" y2="417.10" stroke="#858585" stroke-width="1"/>
<line x1="138.40" y1="411.50" x2="138.40" y2="417.10" stroke="#858585" stroke-width="1"/>
<text x="64.10" y="252.50" font-size="10.6" fill="#231f20" textLength="82.5" lengthAdjust="spacingAndGlyphs">18-wk HFD: eWAT</text>
<text transform="translate(10.5 340) rotate(-90)" font-size="10.2" text-anchor="middle" fill="#231f20" textLength="67" lengthAdjust="spacingAndGlyphs">IL-33 (pg ml<tspan font-size="6" dy="-3.2">−1</tspan><tspan dy="3.2">)</tspan></text>
<line x1="67.20" y1="361.50" x2="67.20" y2="381.20" stroke="#000000" stroke-width="0.9" stroke-opacity="0.6"/>
<line x1="63.20" y1="361.50" x2="71.20" y2="361.50" stroke="#000000" stroke-width="0.9" stroke-opacity="0.6"/>
<line x1="63.20" y1="381.20" x2="71.20" y2="381.20" stroke="#000000" stroke-width="0.9" stroke-opacity="0.6"/>
<line x1="60.20" y1="371.30" x2="74.20" y2="371.30" stroke="#000000" stroke-width="0.9" stroke-opacity="0.6"/>
<circle cx="67.20" cy="358.80" r="3.1" fill="#000000"/>
<circle cx="62.50" cy="364.70" r="3.1" fill="#000000"/>
<circle cx="72.10" cy="366.20" r="3.1" fill="#000000"/>
<circle cx="67.20" cy="369.90" r="3.1" fill="#000000"/>
<circle cx="72.10" cy="372.40" r="3.1" fill="#000000"/>
<circle cx="67.20" cy="377.60" r="3.1" fill="#000000"/>
<circle cx="67.20" cy="388.50" r="3.1" fill="#000000"/>
<line x1="90.90" y1="317.70" x2="90.90" y2="350.50" stroke="#FF8000" stroke-width="0.9" stroke-opacity="0.6"/>
<line x1="86.90" y1="317.70" x2="94.90" y2="317.70" stroke="#FF8000" stroke-width="0.9" stroke-opacity="0.6"/>
<line x1="86.90" y1="350.50" x2="94.90" y2="350.50" stroke="#FF8000" stroke-width="0.9" stroke-opacity="0.6"/>
<line x1="83.90" y1="334.20" x2="97.90" y2="334.20" stroke="#FF8000" stroke-width="0.9" stroke-opacity="0.6"/>
<circle cx="95.80" cy="321.40" r="3.1" fill="#FF8000"/>
<circle cx="90.70" cy="324.40" r="3.1" fill="#FF8000"/>
<circle cx="85.60" cy="326.90" r="3.1" fill="#FF8000"/>
<circle cx="95.80" cy="330.10" r="3.1" fill="#FF8000"/>
<circle cx="90.70" cy="336.70" r="3.1" fill="#FF8000"/>
<circle cx="90.90" cy="366.40" r="3.1" fill="#FF8000"/>
<line x1="114.70" y1="381.60" x2="114.70" y2="400.50" stroke="#00C600" stroke-width="0.9" stroke-opacity="0.6"/>
<line x1="110.70" y1="381.60" x2="118.70" y2="381.60" stroke="#00C600" stroke-width="0.9" stroke-opacity="0.6"/>
<line x1="110.70" y1="400.50" x2="118.70" y2="400.50" stroke="#00C600" stroke-width="0.9" stroke-opacity="0.6"/>
<line x1="107.70" y1="391.60" x2="121.70" y2="391.60" stroke="#00C600" stroke-width="0.9" stroke-opacity="0.6"/>
<circle cx="114.70" cy="374.00" r="3.1" fill="#00C600"/>
<circle cx="111.50" cy="385.00" r="3.1" fill="#00C600"/>
<circle cx="116.90" cy="385.00" r="3.1" fill="#00C600"/>
<circle cx="114.00" cy="397.00" r="3.1" fill="#00C600"/>
<circle cx="119.40" cy="395.60" r="3.1" fill="#00C600"/>
<circle cx="110.00" cy="402.20" r="3.1" fill="#00C600"/>
<circle cx="119.40" cy="402.20" r="3.1" fill="#00C600"/>
<line x1="138.50" y1="343.50" x2="138.50" y2="359.00" stroke="#9600DC" stroke-width="0.9" stroke-opacity="0.6"/>
<line x1="134.50" y1="343.50" x2="142.50" y2="343.50" stroke="#9600DC" stroke-width="0.9" stroke-opacity="0.6"/>
<line x1="134.50" y1="359.00" x2="142.50" y2="359.00" stroke="#9600DC" stroke-width="0.9" stroke-opacity="0.6"/>
<line x1="131.50" y1="350.90" x2="145.50" y2="350.90" stroke="#9600DC" stroke-width="0.9" stroke-opacity="0.6"/>
<circle cx="143.20" cy="343.10" r="3.1" fill="#9600DC"/>
<circle cx="133.60" cy="348.50" r="3.1" fill="#9600DC"/>
<circle cx="143.20" cy="352.60" r="3.1" fill="#9600DC"/>
<circle cx="138.50" cy="360.80" r="3.1" fill="#9600DC"/>
<path d="M68.50 284.60V281.80H113.40V284.60" fill="none" stroke="#8a8a8a" stroke-width="1"/>
<polygon points="92.30,272.75 92.90,274.18 94.44,274.30 93.26,275.31 93.62,276.82 92.30,276.01 90.98,276.82 91.34,275.31 90.16,274.30 91.70,274.18" fill="#1a1a1a" stroke="#1a1a1a" stroke-width="0.35" stroke-linejoin="round"/>
<path d="M115.50 284.60V281.80H139.20V284.60" fill="none" stroke="#8a8a8a" stroke-width="1"/>
<polygon points="122.20,272.75 122.80,274.18 124.34,274.30 123.16,275.31 123.52,276.82 122.20,276.01 120.88,276.82 121.24,275.31 120.06,274.30 121.60,274.18" fill="#1a1a1a" stroke="#1a1a1a" stroke-width="0.35" stroke-linejoin="round"/>
<polygon points="127.80,272.75 128.40,274.18 129.94,274.30 128.76,275.31 129.12,276.82 127.80,276.01 126.48,276.82 126.84,275.31 125.66,274.30 127.20,274.18" fill="#1a1a1a" stroke="#1a1a1a" stroke-width="0.35" stroke-linejoin="round"/>
<polygon points="133.40,272.75 134.00,274.18 135.54,274.30 134.36,275.31 134.72,276.82 133.40,276.01 132.08,276.82 132.44,275.31 131.26,274.30 132.80,274.18" fill="#1a1a1a" stroke="#1a1a1a" stroke-width="0.35" stroke-linejoin="round"/>
<path d="M68.50 301.90V298.90H92.50V301.90" fill="none" stroke="#8a8a8a" stroke-width="1"/>
<polygon points="77.10,291.35 77.70,292.78 79.24,292.90 78.06,293.91 78.42,295.42 77.10,294.61 75.78,295.42 76.14,293.91 74.96,292.90 76.50,292.78" fill="#1a1a1a" stroke="#1a1a1a" stroke-width="0.35" stroke-linejoin="round"/>
<polygon points="82.70,291.35 83.30,292.78 84.84,292.90 83.66,293.91 84.02,295.42 82.70,294.61 81.38,295.42 81.74,293.91 80.56,292.90 82.10,292.78" fill="#1a1a1a" stroke="#1a1a1a" stroke-width="0.35" stroke-linejoin="round"/>
<text x="41.00" y="428.60" font-size="9.2" text-anchor="end" font-style="italic" fill="#231f20" textLength="25.2" lengthAdjust="spacingAndGlyphs">Fndc5</text>
<text x="40.20" y="441.10" font-size="9.0" text-anchor="end" fill="#231f20" textLength="16.4" lengthAdjust="spacingAndGlyphs">AAV</text>
<text x="67.30" y="428.60" font-size="8.8" text-anchor="middle" fill="#231f20" textLength="12.5" lengthAdjust="spacingAndGlyphs">+/+</text>
<text x="67.30" y="441.10" font-size="8.8" text-anchor="middle" fill="#231f20" textLength="15.3" lengthAdjust="spacingAndGlyphs">GFP</text>
<text x="91.00" y="428.60" font-size="8.8" text-anchor="middle" fill="#231f20" textLength="12.5" lengthAdjust="spacingAndGlyphs">+/+</text>
<text x="91.00" y="441.10" font-size="8.8" text-anchor="middle" fill="#231f20" textLength="18.6" lengthAdjust="spacingAndGlyphs">Irisin</text>
<text x="114.50" y="428.60" font-size="8.8" text-anchor="middle" fill="#231f20" textLength="12.5" lengthAdjust="spacingAndGlyphs">−/−</text>
<text x="114.50" y="441.10" font-size="8.8" text-anchor="middle" fill="#231f20" textLength="15.3" lengthAdjust="spacingAndGlyphs">GFP</text>
<text x="138.40" y="428.60" font-size="8.8" text-anchor="middle" fill="#231f20" textLength="12.5" lengthAdjust="spacingAndGlyphs">−/−</text>
<text x="138.40" y="441.10" font-size="8.8" text-anchor="middle" fill="#231f20" textLength="18.6" lengthAdjust="spacingAndGlyphs">Irisin</text>
<line x1="239.20" y1="267.60" x2="239.20" y2="411.50" stroke="#858585" stroke-width="1"/>
<line x1="233.30" y1="411.50" x2="337.60" y2="411.50" stroke="#858585" stroke-width="1"/>
<line x1="233.30" y1="411.60" x2="239.20" y2="411.60" stroke="#858585" stroke-width="1"/>
<text x="228.20" y="415.20" font-size="9.8" text-anchor="end" fill="#231f20">0</text>
<line x1="233.30" y1="375.60" x2="239.20" y2="375.60" stroke="#858585" stroke-width="1"/>
<text x="228.20" y="379.20" font-size="9.8" text-anchor="end" fill="#231f20" textLength="15.4" lengthAdjust="spacingAndGlyphs">100</text>
<line x1="233.30" y1="339.60" x2="239.20" y2="339.60" stroke="#858585" stroke-width="1"/>
<text x="228.20" y="343.20" font-size="9.8" text-anchor="end" fill="#231f20" textLength="15.4" lengthAdjust="spacingAndGlyphs">200</text>
<line x1="233.30" y1="303.60" x2="239.20" y2="303.60" stroke="#858585" stroke-width="1"/>
<text x="228.20" y="307.20" font-size="9.8" text-anchor="end" fill="#231f20" textLength="15.4" lengthAdjust="spacingAndGlyphs">300</text>
<line x1="233.30" y1="267.60" x2="239.20" y2="267.60" stroke="#858585" stroke-width="1"/>
<text x="228.20" y="271.20" font-size="9.8" text-anchor="end" fill="#231f20" textLength="15.4" lengthAdjust="spacingAndGlyphs">400</text>
<line x1="255.00" y1="411.50" x2="255.00" y2="417.10" stroke="#858585" stroke-width="1"/>
<line x1="279.10" y1="411.50" x2="279.10" y2="417.10" stroke="#858585" stroke-width="1"/>
<line x1="303.10" y1="411.50" x2="303.10" y2="417.10" stroke="#858585" stroke-width="1"/>
<line x1="327.10" y1="411.50" x2="327.10" y2="417.10" stroke="#858585" stroke-width="1"/>
<text x="239.10" y="253.00" font-size="10.6" fill="#231f20" textLength="89.9" lengthAdjust="spacingAndGlyphs">18-wk HFD: plasma</text>
<text transform="translate(204.3 340.5) rotate(-90)" font-size="9.0" text-anchor="middle" fill="#231f20" textLength="57" lengthAdjust="spacingAndGlyphs">IL-33 (pg ml<tspan font-size="6" dy="-3.2">−1</tspan><tspan dy="3.2">)</tspan></text>
<line x1="254.90" y1="373.40" x2="254.90" y2="389.90" stroke="#000000" stroke-width="0.9" stroke-opacity="0.6"/>
<line x1="250.90" y1="373.40" x2="258.90" y2="373.40" stroke="#000000" stroke-width="0.9" stroke-opacity="0.6"/>
<line x1="250.90" y1="389.90" x2="258.90" y2="389.90" stroke="#000000" stroke-width="0.9" stroke-opacity="0.6"/>
<line x1="247.90" y1="381.50" x2="261.90" y2="381.50" stroke="#000000" stroke-width="0.9" stroke-opacity="0.6"/>
<circle cx="260.00" cy="373.90" r="3.1" fill="#000000"/>
<circle cx="249.90" cy="378.50" r="3.1" fill="#000000"/>
<circle cx="260.00" cy="382.20" r="3.1" fill="#000000"/>
<circle cx="254.90" cy="392.10" r="3.1" fill="#000000"/>
<line x1="279.10" y1="300.30" x2="279.10" y2="350.00" stroke="#FF8000" stroke-width="0.9" stroke-opacity="0.6"/>
<line x1="275.10" y1="300.30" x2="283.10" y2="300.30" stroke="#FF8000" stroke-width="0.9" stroke-opacity="0.6"/>
<line x1="275.10" y1="350.00" x2="283.10" y2="350.00" stroke="#FF8000" stroke-width="0.9" stroke-opacity="0.6"/>
<line x1="272.10" y1="325.10" x2="286.10" y2="325.10" stroke="#FF8000" stroke-width="0.9" stroke-opacity="0.6"/>
<circle cx="279.10" cy="293.40" r="3.1" fill="#FF8000"/>
<circle cx="279.10" cy="319.20" r="3.1" fill="#FF8000"/>
<circle cx="279.10" cy="337.50" r="3.1" fill="#FF8000"/>
<circle cx="279.10" cy="350.20" r="3.1" fill="#FF8000"/>
<line x1="303.10" y1="402.00" x2="303.10" y2="406.50" stroke="#00C600" stroke-width="0.9" stroke-opacity="0.6"/>
<line x1="299.10" y1="402.00" x2="307.10" y2="402.00" stroke="#00C600" stroke-width="0.9" stroke-opacity="0.6"/>
<line x1="299.10" y1="406.50" x2="307.10" y2="406.50" stroke="#00C600" stroke-width="0.9" stroke-opacity="0.6"/>
<line x1="296.10" y1="404.20" x2="310.10" y2="404.20" stroke="#00C600" stroke-width="0.9" stroke-opacity="0.6"/>
<circle cx="298.10" cy="406.40" r="3.1" fill="#00C600"/>
<circle cx="301.30" cy="402.30" r="3.1" fill="#00C600"/>
<circle cx="304.20" cy="404.50" r="3.1" fill="#00C600"/>
<circle cx="307.90" cy="403.50" r="3.1" fill="#00C600"/>
<line x1="326.60" y1="333.00" x2="326.60" y2="356.00" stroke="#9600DC" stroke-width="0.9" stroke-opacity="0.6"/>
<line x1="322.60" y1="333.00" x2="330.60" y2="333.00" stroke="#9600DC" stroke-width="0.9" stroke-opacity="0.6"/>
<line x1="322.60" y1="356.00" x2="330.60" y2="356.00" stroke="#9600DC" stroke-width="0.9" stroke-opacity="0.6"/>
<line x1="319.60" y1="343.30" x2="333.60" y2="343.30" stroke="#9600DC" stroke-width="0.9" stroke-opacity="0.6"/>
<circle cx="326.60" cy="329.60" r="3.1" fill="#9600DC"/>
<circle cx="321.10" cy="339.90" r="3.1" fill="#9600DC"/>
<circle cx="331.80" cy="344.40" r="3.1" fill="#9600DC"/>
<circle cx="326.60" cy="360.50" r="3.1" fill="#9600DC"/>
<path d="M254.40 276.20V272.70H299.40V276.20" fill="none" stroke="#8a8a8a" stroke-width="1"/>
<polygon points="277.80,263.95 278.40,265.38 279.94,265.50 278.76,266.51 279.12,268.02 277.80,267.21 276.48,268.02 276.84,266.51 275.66,265.50 277.20,265.38" fill="#1a1a1a" stroke="#1a1a1a" stroke-width="0.35" stroke-linejoin="round"/>
<path d="M301.00 276.20V272.70H325.40V276.20" fill="none" stroke="#8a8a8a" stroke-width="1"/>
<polygon points="310.50,263.95 311.10,265.38 312.64,265.50 311.46,266.51 311.82,268.02 310.50,267.21 309.18,268.02 309.54,266.51 308.36,265.50 309.90,265.38" fill="#1a1a1a" stroke="#1a1a1a" stroke-width="0.35" stroke-linejoin="round"/>
<polygon points="316.10,263.95 316.70,265.38 318.24,265.50 317.06,266.51 317.42,268.02 316.10,267.21 314.78,268.02 315.14,266.51 313.96,265.50 315.50,265.38" fill="#1a1a1a" stroke="#1a1a1a" stroke-width="0.35" stroke-linejoin="round"/>
<path d="M254.40 286.30V282.60H278.00V286.30" fill="none" stroke="#8a8a8a" stroke-width="1"/>
<polygon points="265.60,274.55 266.20,275.98 267.74,276.10 266.56,277.11 266.92,278.62 265.60,277.81 264.28,278.62 264.64,277.11 263.46,276.10 265.00,275.98" fill="#1a1a1a" stroke="#1a1a1a" stroke-width="0.35" stroke-linejoin="round"/>
<text x="228.60" y="428.60" font-size="9.2" text-anchor="end" font-style="italic" fill="#231f20" textLength="25.2" lengthAdjust="spacingAndGlyphs">Fndc5</text>
<text x="227.80" y="441.10" font-size="9.0" text-anchor="end" fill="#231f20" textLength="16.4" lengthAdjust="spacingAndGlyphs">AAV</text>
<text x="255.00" y="428.60" font-size="8.8" text-anchor="middle" fill="#231f20" textLength="12.5" lengthAdjust="spacingAndGlyphs">+/+</text>
<text x="255.00" y="441.10" font-size="8.8" text-anchor="middle" fill="#231f20" textLength="15.3" lengthAdjust="spacingAndGlyphs">GFP</text>
<text x="279.10" y="428.60" font-size="8.8" text-anchor="middle" fill="#231f20" textLength="12.5" lengthAdjust="spacingAndGlyphs">+/+</text>
<text x="279.10" y="441.10" font-size="8.8" text-anchor="middle" fill="#231f20" textLength="18.6" lengthAdjust="spacingAndGlyphs">Irisin</text>
<text x="303.10" y="428.60" font-size="8.8" text-anchor="middle" fill="#231f20" textLength="12.5" lengthAdjust="spacingAndGlyphs">−/−</text>
<text x="303.10" y="441.10" font-size="8.8" text-anchor="middle" fill="#231f20" textLength="15.3" lengthAdjust="spacingAndGlyphs">GFP</text>
<text x="327.10" y="428.60" font-size="8.8" text-anchor="middle" fill="#231f20" textLength="12.5" lengthAdjust="spacingAndGlyphs">−/−</text>
<text x="327.10" y="441.10" font-size="8.8" text-anchor="middle" fill="#231f20" textLength="18.6" lengthAdjust="spacingAndGlyphs">Irisin</text>
</svg>
</body></html>
